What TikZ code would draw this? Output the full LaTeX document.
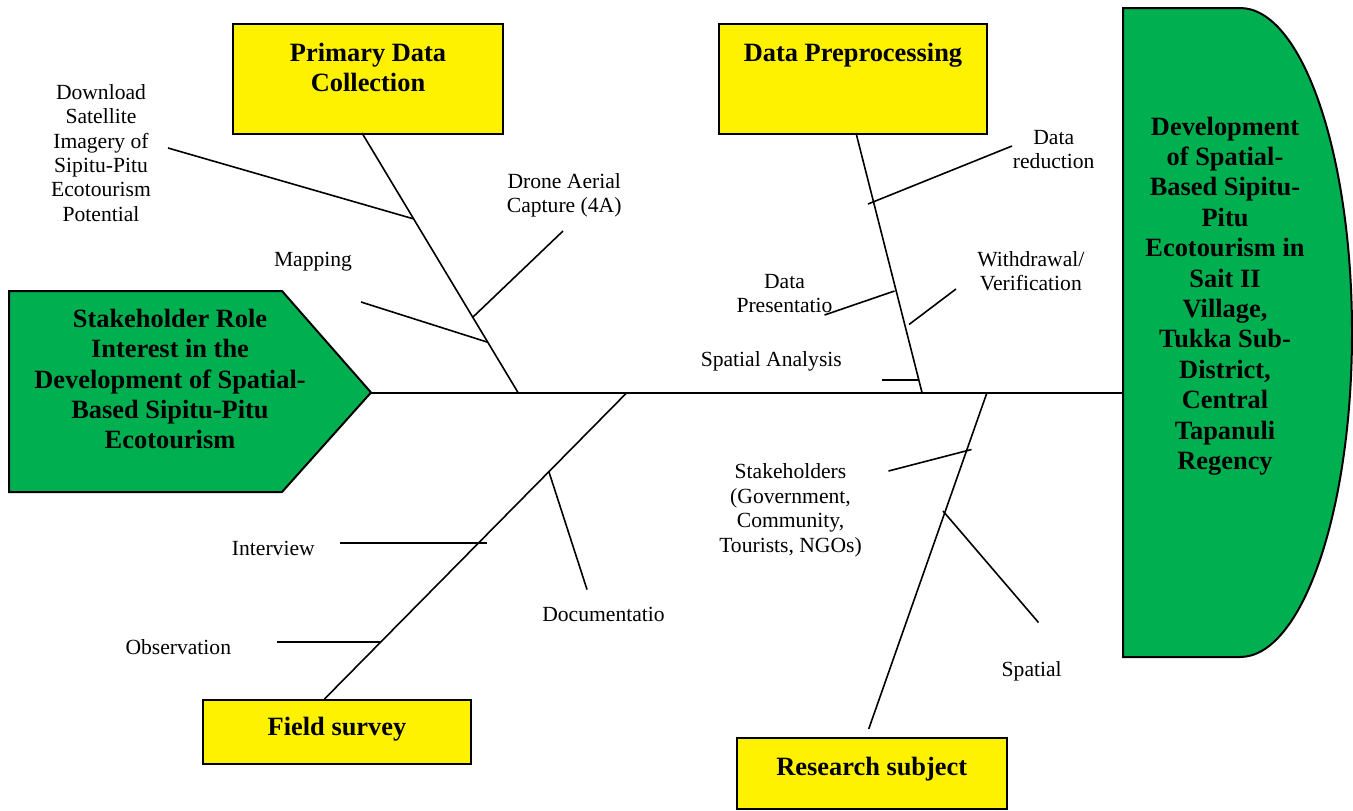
\documentclass[tikz,border=0pt]{standalone}
\usepackage{fontspec}
\setmainfont{Liberation Serif}
\definecolor{boxgreen}{HTML}{00B050}
\newcommand{\headfont}{\fontsize{13.2}{15.2}\selectfont\bfseries}
\newcommand{\lblfont}{\fontsize{10.8}{12.2}\selectfont}
\tikzset{
  ybox/.style={draw,line width=1pt,fill=yellow,font=\headfont,align=center,anchor=north,inner xsep=2pt},
  gshape/.style={draw,line width=1pt,fill=boxgreen},
  bone/.style={line width=.8pt},
  lbl/.style={font=\lblfont,align=center,inner sep=0pt},
  head/.style={font=\headfont,align=center,inner sep=0pt}
}
\begin{document}
\begin{tikzpicture}[x=.5pt,y=-.5pt]
  \useasboundingbox (0,0) rectangle (1353,810);
  % head and tail
  \draw[gshape] (9,291) -- (282,291) -- (371,392.5) coordinate (tip) -- (282,492) -- (9,492) -- cycle;
  \draw[gshape] (1123,8) -- (1240,8) arc[start angle=-90,end angle=90,x radius=112,y radius=324.5]
    -- (1123,657) coordinate (gBot) -- cycle;
  \coordinate (gEdge) at (1123,392.5);
  \node[head] (cause) at (170,379) {Stakeholder Role\\Interest in the\\Development of Spatial-\\Based Sipitu-Pitu\\Ecotourism};
  \node[head] (goal) at (1225,296) {Development\\of Spatial-\\Based Sipitu-\\Pitu\\Ecotourism in\\Sait II\\Village,\\Tukka Sub-\\District,\\Central\\Tapanuli\\Regency};
  \draw[line width=1pt] (tip) -- (gEdge);

  % categories
  \node[ybox,minimum width=135pt,inner ysep=9.5pt,text depth=11.8pt] (pdc) at (368,23) {Primary Data\\Collection};
  \node[ybox,minimum width=134pt,inner ysep=9.5pt,text depth=26.9pt] (dp) at (853,23) {Data Preprocessing};
  \node[ybox,minimum width=134pt,inner ysep=8.5pt,text depth=6pt] (fs) at (337,699) {Field survey};
  \node[ybox,minimum width=134.75pt,inner ysep=9.5pt,text depth=7.5pt] (rs) at (871.75,737) {Research subject};

  % bones
  \coordinate (pdcA) at (362,133);   \coordinate (pdcB) at (518,392.5);
  \coordinate (dpA) at (856,133);    \coordinate (dpB) at (922,392.5);
  \coordinate (fsA) at (324.5,699);  \coordinate (fsB) at (627,392.5);
  \coordinate (rsA) at (868.7,729);  \coordinate (rsB) at (987,392.5);
  \foreach \b in {pdc,dp,fs,rs}
    \draw[bone] (\b A) -- (\b B);

  % sub-branches
  \coordinate (satA) at (168,148);     \coordinate (satB) at (414,219);
  \coordinate (mapA) at (361,302);     \coordinate (mapB) at (487,342);
  \coordinate (droneA) at (563,231);   \coordinate (droneB) at (473,317);
  \coordinate (redA) at (1012,146);    \coordinate (redB) at (868,204);
  \coordinate (wdA) at (956,289);      \coordinate (wdB) at (909,324.5);
  \coordinate (presA) at (824.5,315);  \coordinate (presB) at (894.5,291);
  \coordinate (spaA) at (882,380);     \coordinate (spaB) at (919,380);
  \coordinate (intA) at (340,543);     \coordinate (intB) at (487,543);
  \coordinate (obsA) at (277,642);     \coordinate (obsB) at (380.5,642);
  \coordinate (docA) at (549,472);     \coordinate (docB) at (587,589.5);
  \coordinate (stkA) at (888.5,471);   \coordinate (stkB) at (971.5,449.5);
  \coordinate (splA) at (943,511);     \coordinate (splB) at (1038.5,622.5);
  \foreach \s in {sat,map,drone,red,wd,pres,spa,int,obs,doc,stk,spl}
    \draw[bone] (\s A) -- (\s B);

  % labels
  \node[lbl] (lDown) at (101,153) {Download\\Satellite\\Imagery of\\Sipitu-Pitu\\Ecotourism\\Potential};
  \node[lbl] (lMap) at (313,261.7) {Mapping};
  \node[lbl] (lDrone) at (564.2,195.3) {Drone Aerial\\Capture (4A)};
  \node[lbl] (lRed) at (1053.7,149.4) {Data\\reduction};
  \node[lbl] (lWd) at (1030.8,271) {Withdrawal/\\Verification};
  \node[lbl] (lPres) at (784.5,293.3) {Data\\Presentatio};
  \node[lbl] (lSpa) at (771.3,361) {Spatial Analysis};
  \node[lbl] (lStk) at (790.5,510.2) {Stakeholders\\(Government,\\Community,\\Tourists, NGOs)};
  \node[lbl] (lInt) at (273.3,548.9) {Interview};
  \node[lbl] (lObs) at (178.3,647) {Observation};
  \node[lbl] (lDoc) at (603.5,614) {Documentatio};
  \node[lbl] (lSpl) at (1031.7,671) {Spatial};
\end{tikzpicture}
\end{document}
